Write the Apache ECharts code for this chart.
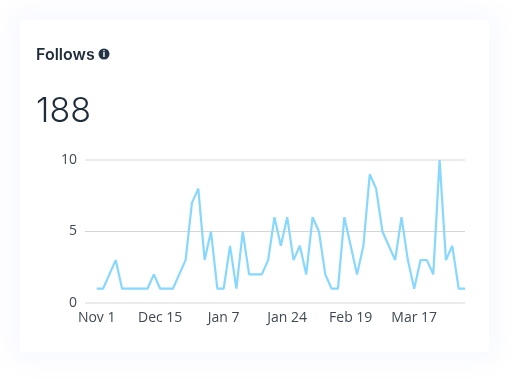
<!DOCTYPE html>
<html>
<head>
<meta charset="utf-8">
<title>Follows</title>
<script src="https://cdn.jsdelivr.net/npm/echarts@6/dist/echarts.min.js"></script>
<style>
  html, body { margin: 0; padding: 0; background: #fff; }
  #card {
    position: absolute; left: 20px; top: 20px; width: 469px; height: 332px;
    background: #fff; border-radius: 4px;
    box-shadow: 0 0 22px 10px rgba(232, 236, 255, 0.32);
  }
  #chart { position: absolute; left: 0; top: 0; width: 528px; height: 391px; }
</style>
</head>
<body>
<div id="card"></div>
<div id="chart"></div>
<script>
  var tickLabels = ['Nov 1', 'Dec 15', 'Jan 7', 'Jan 24', 'Feb 19', 'Mar 17'];
  var tickPositions = [0, 10, 20, 30, 40, 50];
  var follows = [
    1, 1, 2, 3, 1, 1, 1, 1, 1, 2,
    1, 1, 1, 2, 3, 7, 8, 3, 5, 1,
    1, 4, 1, 5, 2, 2, 2, 3, 6, 4,
    6, 3, 4, 2, 6, 5, 2, 1, 1, 6,
    4, 2, 4, 9, 8, 5, 4, 3, 6, 3,
    1, 3, 3, 2, 10, 3, 4, 1, 1
  ];
  var total = '188';

  var textColor = '#1f2d3a';
  var chart = echarts.init(document.getElementById('chart'));

  chart.setOption({
    animation: false,
    title: [
      {
        text: 'Follows', left: 36, top: 47, padding: 0,
        textStyle: { fontFamily: 'Inter', fontSize: 16, fontWeight: 600, color: textColor }
      },
      {
        text: total, left: 36, top: 95, padding: 0,
        textStyle: { fontFamily: 'Inter', fontSize: 34, fontWeight: 300, color: textColor }
      }
    ],
    graphic: [
      { type: 'circle', shape: { cx: 104, cy: 54, r: 5.5 }, style: { fill: '#253545' } },
      {
        type: 'text', x: 104, y: 54,
        style: {
          text: 'i', fill: '#fff', align: 'center', verticalAlign: 'middle',
          fontFamily: 'Inter', fontSize: 9, fontWeight: 700
        }
      }
    ],
    grid: { left: 85, right: 63, top: 160, height: 143 },
    xAxis: {
      type: 'value',
      min: -1.84,
      max: 58,
      splitLine: { show: false },
      axisLine: { show: false },
      axisTick: { show: false },
      axisLabel: {
        customValues: tickPositions,
        formatter: function (value) {
          return tickLabels[tickPositions.indexOf(value)];
        },
        margin: 8,
        fontFamily: 'Open Sans',
        fontSize: 14,
        color: '#3f4a54'
      }
    },
    yAxis: [
      {
        type: 'value', min: 0, max: 10, interval: 5,
        axisLine: { show: false },
        axisTick: { show: false },
        axisLabel: { margin: 8, fontFamily: 'Open Sans', fontSize: 14, color: '#3f4a54' },
        splitLine: { lineStyle: { color: ['transparent', '#d6d6d6', 'transparent'], width: 1 } }
      },
      {
        // 0 and 10 rules are softer and wider than the middle one
        type: 'value', min: 0, max: 10, interval: 10,
        axisLine: { show: false },
        axisTick: { show: false },
        axisLabel: { show: false },
        splitLine: { lineStyle: { color: '#ebebeb', width: 2 } }
      }
    ],
    series: [
      {
        name: 'Follows',
        type: 'line',
        data: follows.map(function (v, i) { return [i, v]; }),
        showSymbol: false,
        clip: false,
        lineStyle: { color: '#87d7ff', width: 2.2 }
      }
    ]
  });
</script>
</body>
</html>
